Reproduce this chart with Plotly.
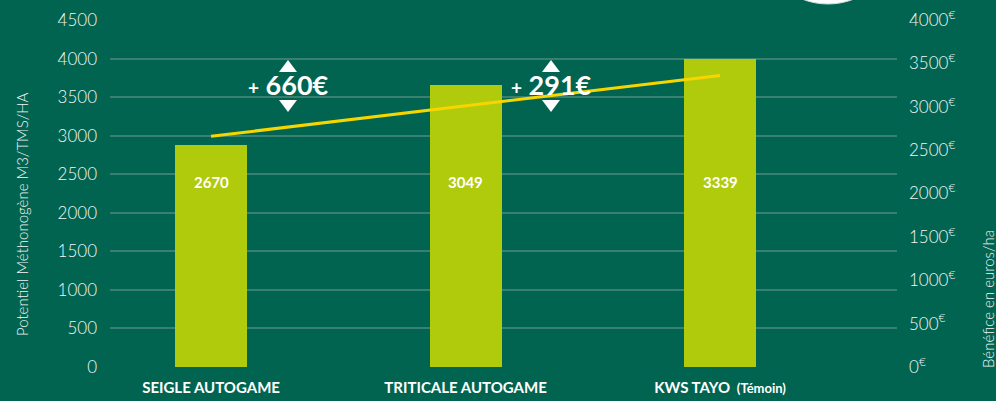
import plotly.graph_objects as go

# ---- data ----
categories = ["SEIGLE AUTOGAME", "TRITICALE AUTOGAME", "KWS TAYO"]
category_labels = ["SEIGLE AUTOGAME", "TRITICALE AUTOGAME",
                   "KWS TAYO <span style='font-size:13px'> (Témoin)</span>"]
bar_values = [2880, 3660, 3990]          # potentiel méthanogène (left axis)
bar_labels = ["2670", "3049", "3339"]     # labels printed inside bars
line_values = [2660, 3010, 3360]          # bénéfice €/ha (right axis)
gain_labels = ["660€", "291€"]
left_ticks = list(range(0, 5000, 500))
right_ticks = list(range(0, 4500, 500))
right_ticktext = [f"{v}<sup>€</sup>" for v in right_ticks]

BG = "#016450"
BAR = "#b0ca0c"
LINE = "#f7d600"
GRID = "#3a8070"
TXT = "#f2f6f4"

W, H = 996, 401
L, R, T, B = 110, 99, 20, 34
PW, PH = W - L - R, H - T - B


def px(x):
    return (x - L) / PW


def py(y):
    return (H - B - y) / PH


fig = go.Figure()
fig.add_trace(go.Bar(x=categories, y=bar_values, width=0.283,
                     marker=dict(color=BAR, line=dict(width=0)),
                     hoverinfo="skip", yaxis="y"))
fig.add_trace(go.Scatter(x=categories, y=line_values, mode="lines",
                         line=dict(color=LINE, width=3),
                         hoverinfo="skip", yaxis="y2"))

annotations = []
# labels inside bars
for c, t in zip(categories, bar_labels):
    annotations.append(dict(x=c, y=py(182), xref="x", yref="paper", text=t,
                            showarrow=False, xanchor="center", yanchor="middle",
                            font=dict(family="Lato", size=15, color="white", weight="bold")))

# gain annotations with triangles
shapes = []
for cx, g in zip([288, 551], gain_labels):
    annotations.append(dict(x=px(cx), y=py(85), xref="paper", yref="paper",
                            text=f"<span style='font-size:19px'>+</span> {g}",
                            showarrow=False, xanchor="center", yanchor="middle",
                            font=dict(family="Lato", size=27, color="white", weight="bold")))
    for (y0, y1) in [(72, 60), (100, 112)]:
        path = (f"M {px(cx-9)} {py(y0)} L {px(cx+9)} {py(y0)} L {px(cx)} {py(y1)} Z")
        shapes.append(dict(type="path", path=path, xref="paper", yref="paper",
                           fillcolor="white", line=dict(width=0), layer="above"))

# white circle partly visible at the top
shapes.append(dict(type="circle", xref="paper", yref="paper",
                   x0=px(828 - 71), x1=px(828 + 71), y0=py(4), y1=py(4 - 142),
                   fillcolor="white", line=dict(color="#cfd8d4", width=1), layer="above"))

# axis titles
annotations.append(dict(x=px(22), y=py(214), xref="paper", yref="paper",
                        text="Potentiel Méthonogène M3/TMS/HA", textangle=-90,
                        showarrow=False, xanchor="center", yanchor="middle",
                        font=dict(family="Lato", size=15, color=TXT, weight=300)))
annotations.append(dict(x=px(988), y=py(299), xref="paper", yref="paper",
                        text="Bénéfice en euros/ha", textangle=-90,
                        showarrow=False, xanchor="center", yanchor="middle",
                        font=dict(family="Lato", size=15, color=TXT, weight=300)))

fig.update_layout(
    width=W, height=H,
    margin=dict(l=L, r=R, t=T, b=B, pad=0, autoexpand=False),
    paper_bgcolor=BG, plot_bgcolor=BG,
    showlegend=False,
    annotations=annotations,
    shapes=shapes,
    xaxis=dict(type="category", range=[-0.397, 2.695], automargin=False,
               tickvals=categories, ticktext=category_labels,
               showgrid=False, zeroline=False, showline=False, ticks="",
               ticklabelstandoff=10,
               tickfont=dict(family="Lato", size=15, color="white", weight="bold")),
    yaxis=dict(range=[0, 4500], tickvals=left_ticks, automargin=False,
               showgrid=True, gridcolor=GRID, gridwidth=1.5,
               zeroline=False, showline=False, ticks="",
               ticklabelstandoff=12,
               tickfont=dict(family="Lato", size=17, color=TXT, weight=300)),
    yaxis2=dict(range=[0, 4000], overlaying="y", side="right", automargin=False,
                tickvals=right_ticks, ticktext=right_ticktext,
                showgrid=False, zeroline=False, showline=False, ticks="",
                ticklabelstandoff=11,
                tickfont=dict(family="Lato", size=17, color=TXT, weight=300)),
    bargap=0,
)

fig.write_html(
    "out.html",
    config={"displayModeBar": False},
    post_script="document.body.style.margin='0';document.body.style.background='" + BG + "';",
)
